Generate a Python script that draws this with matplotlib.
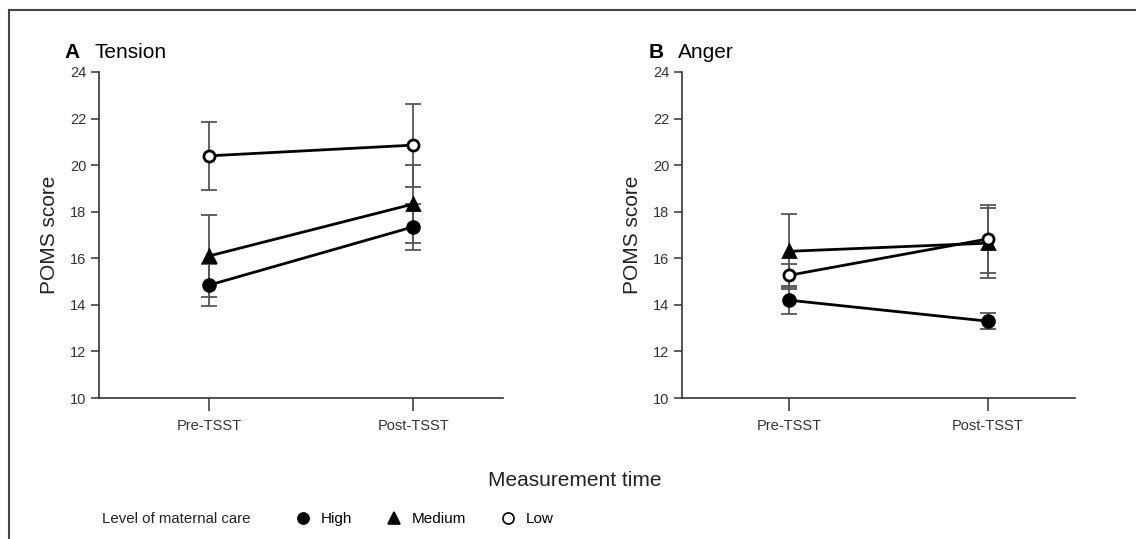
import numpy as np
import matplotlib
matplotlib.use("Agg")
import matplotlib.pyplot as plt
from matplotlib.lines import Line2D

plt.rcParams['font.family'] = ['Liberation Sans', 'DejaVu Sans']

# Datos
tiempos = ["Pre-TSST", "Post-TSST"]
niveles = ["High", "Medium", "Low"]

# Panel A: Tension (media y error)
tension_high = [14.85, 17.35]
tension_high_err = [0.9, 1.0]
tension_medium = [16.1, 18.33]
tension_medium_err = [1.75, 1.68]
tension_low = [20.4, 20.86]
tension_low_err = [1.45, 1.78]

# Panel B: Anger
anger_high = [14.2, 13.3]
anger_high_err = [0.6, 0.35]
anger_medium = [16.3, 16.65]
anger_medium_err = [1.6, 1.5]
anger_low = [15.27, 16.83]
anger_low_err = [0.5, 1.45]

W, H = 1136, 539
fig = plt.figure(figsize=(W / 100, H / 100), dpi=100)

# Estilos de cada nivel
estilos = {
    "High": dict(marker="o", mfc="black", ms=8.5),
    "Medium": dict(marker="^", mfc="black", ms=8.5),
    "Low": dict(marker="o", mfc="white", ms=8),
}


def panel(rect, letra, titulo, datos):
    ax = fig.add_axes(rect)
    x = np.arange(len(tiempos))
    for nivel, (y, e) in datos.items():
        est = estilos[nivel]
        ax.errorbar(x, y, yerr=e, fmt="none", ecolor="#555555", elinewidth=1.3,
                    capsize=6, capthick=1.3, zorder=2)
        ax.plot(x, y, color="black", lw=2, marker=est["marker"], ms=est["ms"],
                mfc=est["mfc"], mec="black", mew=2, zorder=3)
    ax.set_xlim(-0.54, 1.44)
    ax.set_ylim(10, 24)
    ax.set_yticks(range(10, 25, 2))
    ax.set_xticks(x)
    ax.set_xticklabels(tiempos)
    for s in ["top", "right"]:
        ax.spines[s].set_visible(False)
    for s in ["left", "bottom"]:
        ax.spines[s].set_color("#333333")
        ax.spines[s].set_linewidth(1.2)
    ax.tick_params(axis="y", length=6, width=1.1, colors="#333333", labelsize=10.5, pad=3)
    ax.tick_params(axis="x", length=9, width=1.1, colors="#333333", labelsize=10.5, pad=6)
    ax.set_ylabel("POMS score", fontsize=15, color="#222222", labelpad=8)
    ax.text(-0.085, 1.06, letra, transform=ax.transAxes, fontsize=15, fontweight="bold",
            va="center", ha="left")
    ax.text(-0.01, 1.06, titulo, transform=ax.transAxes, fontsize=15,
            va="center", ha="left")
    return ax


panel([99 / W, 1 - 398 / H, 404 / W, 326 / H], "A", "Tension",
      {"High": (tension_high, tension_high_err),
       "Medium": (tension_medium, tension_medium_err),
       "Low": (tension_low, tension_low_err)})
panel([682 / W, 1 - 398 / H, 393 / W, 326 / H], "B", "Anger",
      {"High": (anger_high, anger_high_err),
       "Medium": (anger_medium, anger_medium_err),
       "Low": (anger_low, anger_low_err)})

fig.text(575 / W, 1 - 480 / H, "Measurement time", fontsize=15, color="#222222",
         ha="center", va="center")

# Leyenda
fig.text(102 / W, 1 - 519 / H, "Level of maternal care", fontsize=10.8, color="#222222",
         ha="left", va="center")
handles = [Line2D([], [], ls="none", marker=estilos[n]["marker"], mfc=estilos[n]["mfc"],
                  mec="black", mew=1.2, ms=8) for n in niveles]
fig.legend(handles, niveles, loc="center left", bbox_to_anchor=(295 / W, 1 - 519 / H),
           ncol=3, frameon=False, handlelength=1.0, handletextpad=0.7,
           columnspacing=2.2, fontsize=11, borderaxespad=0, borderpad=0)

# Marco de la figura (izquierda y arriba)
fig.add_artist(Line2D([9 / W, 9 / W], [0, 1 - 10 / H], transform=fig.transFigure,
                      color="#444444", lw=1.5))
fig.add_artist(Line2D([9 / W, 1], [1 - 10 / H, 1 - 10 / H], transform=fig.transFigure,
                      color="#444444", lw=1.5))

fig.savefig("out.png", dpi=100)
